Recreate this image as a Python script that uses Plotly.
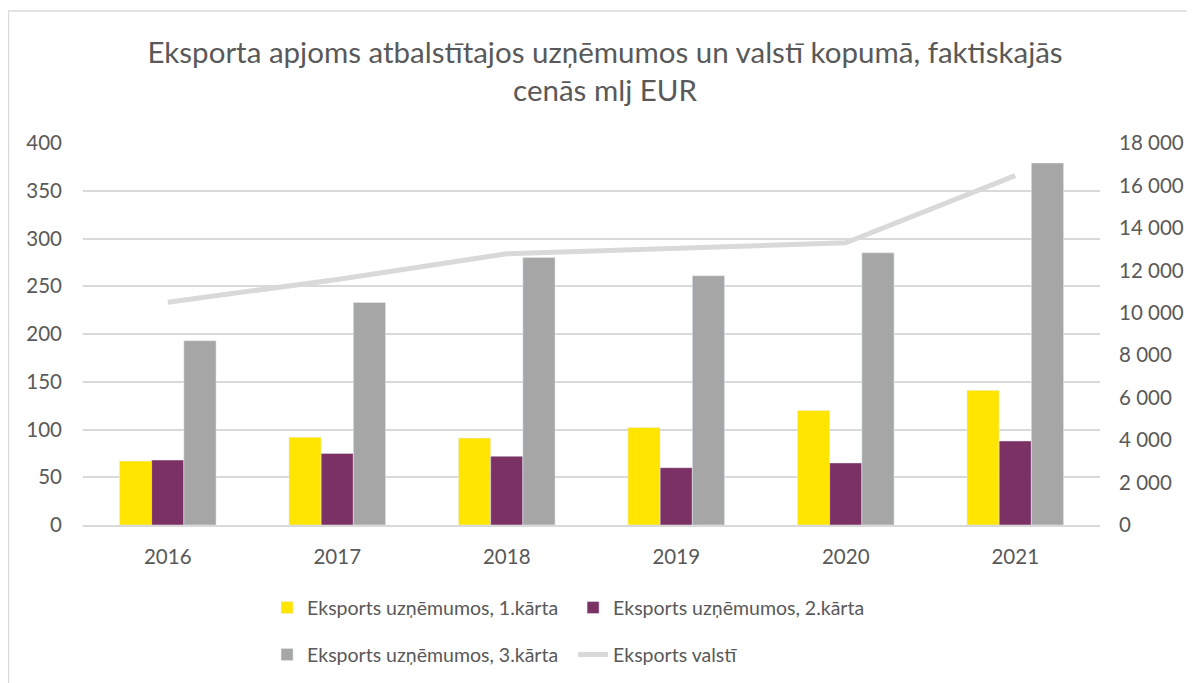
import plotly.graph_objects as go

years = ["2016", "2017", "2018", "2019", "2020", "2021"]
karta1 = [67, 92, 91, 102, 120, 141]
karta2 = [68, 75, 72, 60, 65, 88]
karta3 = [193, 233, 280, 261, 285, 379]
valsti = [10500, 11570, 12780, 13050, 13300, 16460]

FONT = "Lato"
TXT = "#595959"

fig = go.Figure()
fig.add_trace(go.Bar(x=years, y=karta1, name="Eksports uzņēmumos, 1.kārta",
                     marker_color="#FFE500", legend="legend"))
fig.add_trace(go.Bar(x=years, y=karta2, name="Eksports uzņēmumos, 2.kārta",
                     marker_color="#7B3163", legend="legend"))
fig.add_trace(go.Bar(x=years, y=karta3, name="Eksports uzņēmumos, 3.kārta",
                     marker_color="#A6A6A6", legend="legend2"))
fig.add_trace(go.Scatter(x=years, y=valsti, name="Eksports valstī", mode="lines",
                         line=dict(color="#D9D9D9", width=5), yaxis="y2",
                         legend="legend2"))

legend_common = dict(orientation="h", xanchor="left", yanchor="middle",
                     entrywidth=261, entrywidthmode="pixels",
                     font=dict(family=FONT, size=19.5, color=TXT),
                     traceorder="normal", bgcolor="rgba(0,0,0,0)")

# page body adds an 8px offset, so the figure is 8px smaller than the window
fig.update_layout(
    width=1187, height=675,
    margin=dict(l=75, r=95, t=135, b=158, autoexpand=False),
    paper_bgcolor="white", plot_bgcolor="white",
    separators=". ",
    font=dict(family=FONT, color=TXT),
    title=dict(text="Eksporta apjoms atbalstītajos uzņēmumos un valstī kopumā, faktiskajās<br>cenās mlj EUR",
               x=0.503, xanchor="center", y=1 - 55 / 675, yanchor="middle",
               font=dict(family=FONT, size=29.5, color=TXT)),
    barmode="group", bargap=0.43, bargroupgap=0,
    xaxis=dict(showline=True, linecolor="#D9D9D9", linewidth=1.5,
               tickfont=dict(size=20.5, color=TXT), ticks="",
               ticklabelstandoff=13, automargin=False),
    yaxis=dict(range=[0, 400], dtick=50, showgrid=True, gridcolor="#D9D9D9",
               gridwidth=1.5, zeroline=False, tickfont=dict(size=20.5, color=TXT),
               ticklabelstandoff=20, automargin=False),
    yaxis2=dict(range=[0, 18000], dtick=2000, overlaying="y", side="right",
                showgrid=False, zeroline=False, tickformat=",d",
                tickfont=dict(size=20.5, color=TXT), ticklabelstandoff=18,
                automargin=False),
    legend=dict(x=0.181, y=-0.217, **legend_common),
    legend2=dict(x=0.181, y=-0.34, **legend_common),
    shapes=[dict(type="rect", xref="paper", yref="paper",
                 x0=-0.0733, x1=1.3, y0=-1, y1=1.3455,
                 line=dict(color="#D9D9D9", width=1.5), layer="below")],
)

fig.write_html("out.html")
